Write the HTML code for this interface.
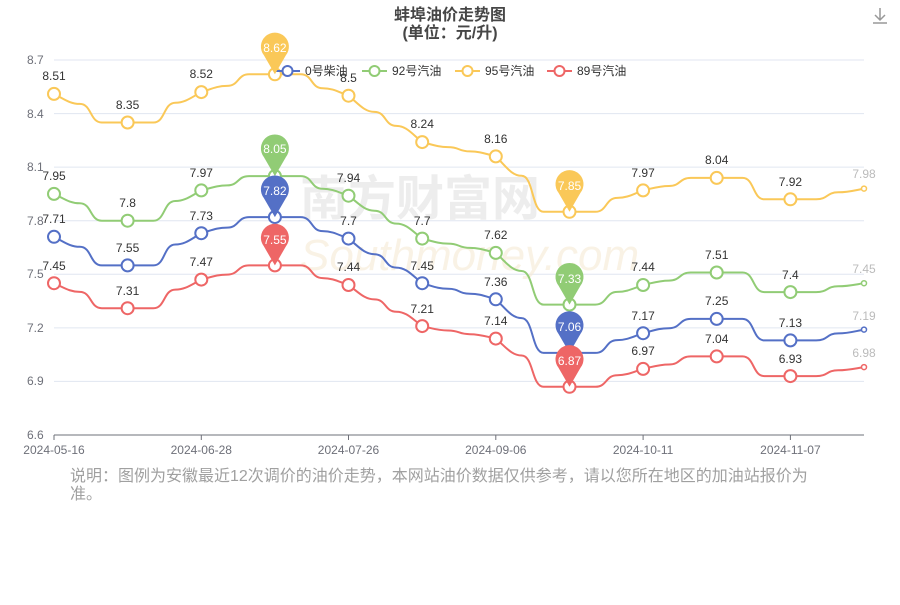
<!DOCTYPE html>
<html><head><meta charset="utf-8"><style>
body{margin:0;background:#fff;width:900px;height:600px;overflow:hidden;font-family:"Liberation Sans","Noto Sans CJK SC",sans-serif}
svg text{font-family:"Liberation Sans","Noto Sans CJK SC",sans-serif}
</style></head><body>
<svg id="s" width="900" height="600" xmlns="http://www.w3.org/2000/svg">
<text x="450" y="20" text-anchor="middle" font-size="16" font-weight="bold" fill="#464646">蚌埠油价走势图</text>
<text x="450" y="38" text-anchor="middle" font-size="16" font-weight="bold" fill="#464646">(单位：元/升)</text>
<g stroke="#999" stroke-width="1.5" fill="none"><path d="M880 8v12M875 15l5 5 5-5M873 23h14"/></g>
<g stroke="#e0e6f1" stroke-width="1">
<line x1="54" x2="864" y1="60" y2="60"/><line x1="54" x2="864" y1="113.6" y2="113.6"/><line x1="54" x2="864" y1="167.1" y2="167.1"/><line x1="54" x2="864" y1="220.7" y2="220.7"/><line x1="54" x2="864" y1="274.3" y2="274.3"/><line x1="54" x2="864" y1="327.9" y2="327.9"/><line x1="54" x2="864" y1="381.4" y2="381.4"/>
</g>
<line x1="54" x2="864" y1="435" y2="435" stroke="#6e7079"/>
<g stroke="#6e7079"><line x1="54" x2="54" y1="435" y2="440"/><line x1="201.3" x2="201.3" y1="435" y2="440"/><line x1="348.5" x2="348.5" y1="435" y2="440"/><line x1="495.8" x2="495.8" y1="435" y2="440"/><line x1="643.1" x2="643.1" y1="435" y2="440"/><line x1="790.4" x2="790.4" y1="435" y2="440"/></g>
<g font-size="12" fill="#6e7079" text-anchor="start">
<text x="27" y="64">8.7</text><text x="27" y="118">8.4</text><text x="27" y="171">8.1</text><text x="27" y="225">7.8</text><text x="27" y="278">7.5</text><text x="27" y="332">7.2</text><text x="27" y="385">6.9</text><text x="27" y="439">6.6</text>
</g>
<g font-size="12" fill="#6e7079" text-anchor="middle">
<text x="54" y="454">2024-05-16</text><text x="201.3" y="454">2024-06-28</text><text x="348.5" y="454">2024-07-26</text><text x="495.8" y="454">2024-09-06</text><text x="643.1" y="454">2024-10-11</text><text x="790.4" y="454">2024-11-07</text>
</g>
<text x="300" y="215" font-size="48" fill="#e6e6e6" opacity="0.7" font-weight="bold">南方财富网</text>
<text x="300" y="270" font-size="44" fill="#f6ead5" opacity="0.6" font-style="italic">Southmoney.com</text>
<g id="lines"></g>
<g font-size="12" fill="#333">
<line x1="275" x2="300" y1="71" y2="71" stroke="#5470c6" stroke-width="2"/><circle cx="287.5" cy="71" r="5" fill="#fff" stroke="#5470c6" stroke-width="2"/><text x="305" y="75">0号柴油</text>
<line x1="362" x2="387" y1="71" y2="71" stroke="#91cc75" stroke-width="2"/><circle cx="374.5" cy="71" r="5" fill="#fff" stroke="#91cc75" stroke-width="2"/><text x="392" y="75">92号汽油</text>
<line x1="455" x2="480" y1="71" y2="71" stroke="#fac858" stroke-width="2"/><circle cx="467.5" cy="71" r="5" fill="#fff" stroke="#fac858" stroke-width="2"/><text x="485" y="75">95号汽油</text>
<line x1="547" x2="572" y1="71" y2="71" stroke="#ee6666" stroke-width="2"/><circle cx="559.5" cy="71" r="5" fill="#fff" stroke="#ee6666" stroke-width="2"/><text x="577" y="75">89号汽油</text>
</g>
<g font-size="12" fill="#333" text-anchor="middle">
<text x="54" y="80">8.51</text><text x="127.6" y="109">8.35</text><text x="201.3" y="78">8.52</text><text x="348.5" y="82">8.5</text><text x="422.2" y="128">8.24</text><text x="495.8" y="143">8.16</text><text x="643.1" y="177">7.97</text><text x="716.7" y="164">8.04</text><text x="790.4" y="186">7.92</text><text x="864" y="178" fill="#bbb">7.98</text>
<text x="54" y="180">7.95</text><text x="127.6" y="207">7.8</text><text x="201.3" y="177">7.97</text><text x="348.5" y="182">7.94</text><text x="422.2" y="225">7.7</text><text x="495.8" y="239">7.62</text><text x="643.1" y="271">7.44</text><text x="716.7" y="259">7.51</text><text x="790.4" y="279">7.4</text><text x="864" y="273" fill="#bbb">7.45</text>
<text x="54" y="223">7.71</text><text x="127.6" y="252">7.55</text><text x="201.3" y="220">7.73</text><text x="348.5" y="225">7.7</text><text x="422.2" y="270">7.45</text><text x="495.8" y="286">7.36</text><text x="643.1" y="320">7.17</text><text x="716.7" y="305">7.25</text><text x="790.4" y="327">7.13</text><text x="864" y="320" fill="#bbb">7.19</text>
<text x="54" y="270">7.45</text><text x="127.6" y="295">7.31</text><text x="201.3" y="266">7.47</text><text x="348.5" y="271">7.44</text><text x="422.2" y="313">7.21</text><text x="495.8" y="325">7.14</text><text x="643.1" y="355">6.97</text><text x="716.7" y="343">7.04</text><text x="790.4" y="363">6.93</text><text x="864" y="357" fill="#bbb">6.98</text>
</g>
<g id="pins"></g>
<g font-size="12" fill="#fff" text-anchor="middle">
<text x="274.9" y="52">8.62</text><text x="569.5" y="190">7.85</text>
<text x="274.9" y="153">8.05</text><text x="569.5" y="283">7.33</text>
<text x="274.9" y="195">7.82</text><text x="569.5" y="331">7.06</text>
<text x="274.9" y="244">7.55</text><text x="569.5" y="365">6.87</text>
</g>
</svg>
<div style="position:absolute;left:70px;top:468px;width:750px;font-size:16px;line-height:18px;color:#a0a0a0">说明：图例为安徽最近12次调价的油价走势，本网站油价数据仅供参考，请以您所在地区的加油站报价为准。</div>
<script>
var X=[54,127.6,201.3,274.9,348.5,422.2,495.8,569.5,643.1,716.7,790.4,864];
var S=[["#fac858",[93.9,122.5,92.1,74.3,95.7,142.1,156.4,211.8,190.4,177.9,199.3,188.6]],
["#91cc75",[193.9,220.7,190.4,176.1,195.7,238.6,252.9,304.6,285.0,272.5,292.1,283.2]],
["#5470c6",[236.8,265.4,233.2,217.1,238.6,283.2,299.3,352.9,333.2,318.9,340.4,329.6]],
["#ee6666",[283.2,308.2,279.6,265.4,285.0,326.1,338.6,386.8,368.9,356.4,376.1,367.1]]];
var ns="http://www.w3.org/2000/svg",L=document.getElementById("lines"),P=document.getElementById("pins");
function el(t,a,p){var e=document.createElementNS(ns,t);for(var k in a)e.setAttribute(k,a[k]);p.appendChild(e);return e;}
function f(v){return v.toFixed(1);}
S.forEach(function(s){var c=s[0],Y=s[1];
function mono(i){if(i==0||i==11)return true;return (Y[i]-Y[i-1])*(Y[i+1]-Y[i])>0;}
var d="M"+X[0]+" "+Y[0],r=11;
for(var i=0;i<11;i++){var x0=X[i],x1=X[i+1],y0=Y[i],y1=Y[i+1],D=y1-y0,m=(x0+x1)/2;
var s0=mono(i),s1=mono(i+1),a=y0+(s0?0.35*D:0),b=y1-(s1?0.35*D:0);
if(s0)d+=" C"+f(x0+10)+" "+f(y0+(a-y0)*0.5)+" "+f(m-r-10)+" "+f(a)+" "+f(m-r)+" "+f(a);else d+=" H"+f(m-r);
d+=" C"+f(m+1)+" "+f(a)+" "+f(m-1)+" "+f(b)+" "+f(m+r)+" "+f(b);
if(s1)d+=" C"+f(m+r+10)+" "+f(b)+" "+f(x1-10)+" "+f(y1-(y1-b)*0.5)+" "+f(x1)+" "+f(y1);else d+=" H"+f(x1);}
el("path",{d:d,fill:"none",stroke:c,"stroke-width":2},L);
for(var i=0;i<12;i++)el("circle",{cx:X[i],cy:Y[i],r:i==11?2.5:6,fill:"#fff",stroke:c,"stroke-width":i==11?1.5:2},L);
[3,7].forEach(function(i){var x=X[i],y=Y[i],cy=y-28;
el("path",{d:"M"+x+" "+y+" L"+(x-11)+" "+(cy+9)+" A14 14 0 1 1 "+(x+11)+" "+(cy+9)+" Z",fill:c},P);});
});
</script>
</body></html>
